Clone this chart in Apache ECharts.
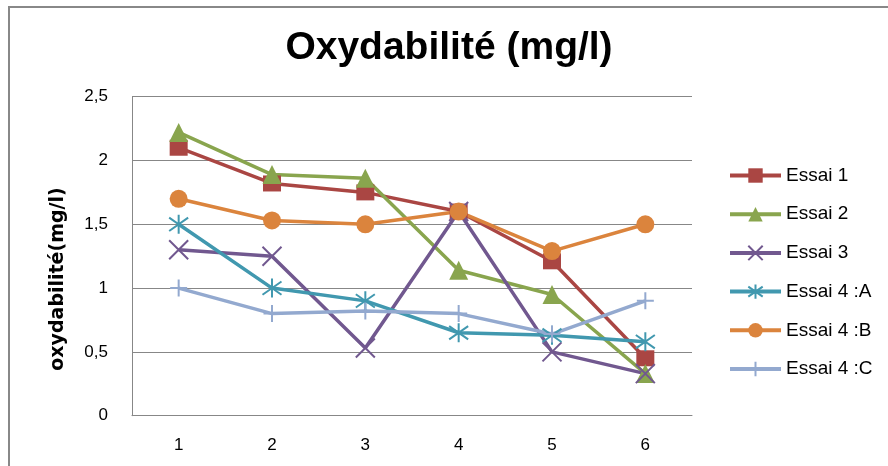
<!DOCTYPE html>
<html>
<head>
<meta charset="utf-8">
<script src="https://cdn.jsdelivr.net/npm/echarts@6/dist/echarts.min.js"></script>
<style>html,body{margin:0;padding:0;background:#fff}#c{width:888px;height:466px}</style>
</head>
<body>
<div id="c"></div>
<script>
const categories = ['1', '2', '3', '4', '5', '6'];
const seriesNames = ['Essai 1', 'Essai 2', 'Essai 3', 'Essai 4 :A', 'Essai 4 :B', 'Essai 4 :C'];
const essai1  = [2.10, 1.82, 1.75, 1.60, 1.21, 0.45];
const essai2  = [2.22, 1.89, 1.86, 1.14, 0.95, 0.33];
const essai3  = [1.30, 1.25, 0.53, 1.60, 0.50, 0.33];
const essai4A = [1.50, 1.00, 0.90, 0.65, 0.63, 0.58];
const essai4B = [1.70, 1.53, 1.50, 1.60, 1.29, 1.50];
const essai4C = [1.00, 0.80, 0.82, 0.80, 0.64, 0.90];
const yTicks = ['0', '0,5', '1', '1,5', '2', '2,5'];

const colors = ['#AA4643', '#89A54E', '#71588F', '#4198AF', '#DB843D', '#93A9CF'];
const symX = 'path://M0,0L10,10M10,0L0,10';
const symStar = 'path://M5,0L5,10M0,1.5L10,8.5M10,1.5L0,8.5';
const symPlus = 'path://M5,0L5,10M0,5L10,5';
const symbols = ['rect', 'triangle', symX, symStar, 'circle', symPlus];
const sizes = [[18, 16], 19, 19, 19, 18, 17];
const strokeSym = [false, false, true, true, false, true];
const allData = [essai1, essai2, essai3, essai4A, essai4B, essai4C];

const chart = echarts.init(document.getElementById('c'), null, {renderer: 'canvas'});
chart.setOption({
  animation: false,
  backgroundColor: '#fff',
  graphic: [
    {type: 'line', shape: {x1: 9, y1: 7, x2: 9, y2: 466}, style: {stroke: '#888', lineWidth: 2}},
    {type: 'line', shape: {x1: 8, y1: 7, x2: 888, y2: 7}, style: {stroke: '#888', lineWidth: 2}},
    {type: 'text', x: 449, y: 48, style: {text: 'Oxydabilité (mg/l)', align: 'center', verticalAlign: 'middle',
      fontFamily: 'Liberation Sans', fontWeight: 'bold', fontSize: 39, fill: '#000'}},
    {type: 'text', x: 58, y: 279, rotation: Math.PI / 2, style: {text: 'oxydabilité(mg/l)', align: 'center', verticalAlign: 'middle',
      fontFamily: 'DejaVu Sans', fontWeight: 'bold', fontSize: 19, fill: '#000'}}
  ],
  grid: {left: 132, right: 196, top: 96.7, bottom: 50.3, containLabel: false},
  legend: {
    orient: 'vertical', left: 728, top: 166, padding: 0,
    itemWidth: 51, itemHeight: 18, itemGap: 19.7,
    lineStyle: {width: 4},
    textStyle: {fontFamily: 'Liberation Sans', fontSize: 19, color: '#000'},
    data: seriesNames
  },
  xAxis: {
    type: 'category', data: categories, boundaryGap: true,
    axisLine: {lineStyle: {color: '#878787', width: 1}},
    axisTick: {show: false},
    axisLabel: {margin: 21, fontFamily: 'Liberation Sans', fontSize: 17, color: '#000'}
  },
  yAxis: {
    type: 'value', min: 0, max: 2.5, interval: 0.5,
    axisLine: {show: true, lineStyle: {color: '#878787', width: 1}},
    axisTick: {show: false},
    splitLine: {lineStyle: {color: '#878787', width: 1}},
    axisLabel: {margin: 24, fontFamily: 'Liberation Sans', fontSize: 17, color: '#000',
      formatter: function (v) { return yTicks[Math.round(v / 0.5)]; }}
  },
  series: seriesNames.map(function (n, i) {
    return {
      name: n, type: 'line', data: allData[i],
      symbol: symbols[i], symbolSize: sizes[i], showAllSymbol: true,
      lineStyle: {color: colors[i], width: 3.5},
      itemStyle: strokeSym[i]
        ? {color: colors[i], borderColor: colors[i], borderWidth: 2, opacity: 1}
        : {color: colors[i], borderColor: colors[i], borderWidth: 0, opacity: 1},
      emphasis: {disabled: true}
    };
  })
});
</script>
</body>
</html>
